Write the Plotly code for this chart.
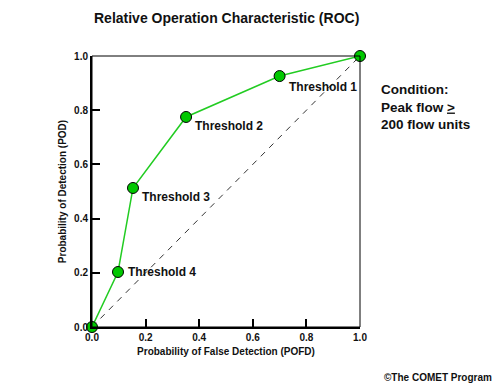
import plotly.graph_objects as go

pofd = [0.0, 0.097, 0.153, 0.351, 0.70, 1.0]
pod = [0.0, 0.203, 0.513, 0.775, 0.926, 1.0]
labels = ["", "Threshold 4", "Threshold 3", "Threshold 2", "Threshold 1", ""]
label_shift = [None, (8, 0), (7, -9), (7, -9), (7, -11), None]
ticks = [0.0, 0.2, 0.4, 0.6, 0.8, 1.0]

FONT = "Liberation Sans, Arial, sans-serif"

fig = go.Figure()
fig.add_trace(go.Scatter(x=[0, 1], y=[0, 1], mode="lines",
                         line=dict(color="#333333", width=1, dash="6px,6px"),
                         hoverinfo="skip", showlegend=False))
fig.add_trace(go.Scatter(x=pofd, y=pod, mode="lines+markers",
                         line=dict(color="#22cc22", width=1.5),
                         marker=dict(size=11, color="#00c800", line=dict(color="black", width=1)),
                         cliponaxis=False, showlegend=False))

for x, y, t, s in zip(pofd, pod, labels, label_shift):
    if t:
        fig.add_annotation(x=x, y=y, text=t, showarrow=False, xanchor="left", yanchor="middle",
                           xshift=s[0], yshift=s[1],
                           font=dict(family=FONT, size=12, color="#111111", weight="bold"))

fig.add_shape(type="rect", xref="paper", yref="paper", x0=0, y0=0, x1=1, y1=1,
              line=dict(color="black", width=1))

fig.add_annotation(xref="paper", yref="paper", x=0.5, y=1, yshift=38, showarrow=False,
                   text="Relative Operation Characteristic (ROC)", xanchor="center", yanchor="middle",
                   font=dict(family=FONT, size=14, color="#111111", weight="bold"))
fig.add_annotation(xref="paper", yref="paper", x=1, xshift=19, y=1, yshift=-24, showarrow=False,
                   text="Condition:<br>Peak flow <u>></u><br>200 flow units", align="left",
                   xanchor="left", yanchor="top",
                   font=dict(family=FONT, size=13.5, color="#111111", weight="bold"))
fig.add_annotation(xref="paper", yref="paper", x=1, xshift=134, y=0, yshift=-50, showarrow=False,
                   text="©The COMET Program", xanchor="right", yanchor="middle",
                   font=dict(family=FONT, size=10, color="#111111", weight="bold"))

axis_common = dict(range=[0, 1], tickvals=ticks, tickformat=".1f", ticks="inside", ticklen=8,
                   tickwidth=2, tickcolor="black", showline=True, linecolor="black", linewidth=2,
                   showgrid=False, zeroline=False, fixedrange=True,
                   tickfont=dict(family=FONT, size=10, color="#111111", weight="bold"),
                   title_font=dict(family=FONT, size=10, color="#111111", weight="bold"))

fig.update_xaxes(**axis_common, title_text="Probability of False Detection (POFD)", title_standoff=6)
fig.update_yaxes(**axis_common, title_text="Probability of Detection (POD)", title_standoff=6)

fig.update_layout(width=498, height=385, margin=dict(l=92, r=138, t=56, b=58),
                  plot_bgcolor="white", paper_bgcolor="white", showlegend=False)

fig.write_html("out.html", config={"displayModeBar": False},
               post_script="document.body.style.margin='0';")
